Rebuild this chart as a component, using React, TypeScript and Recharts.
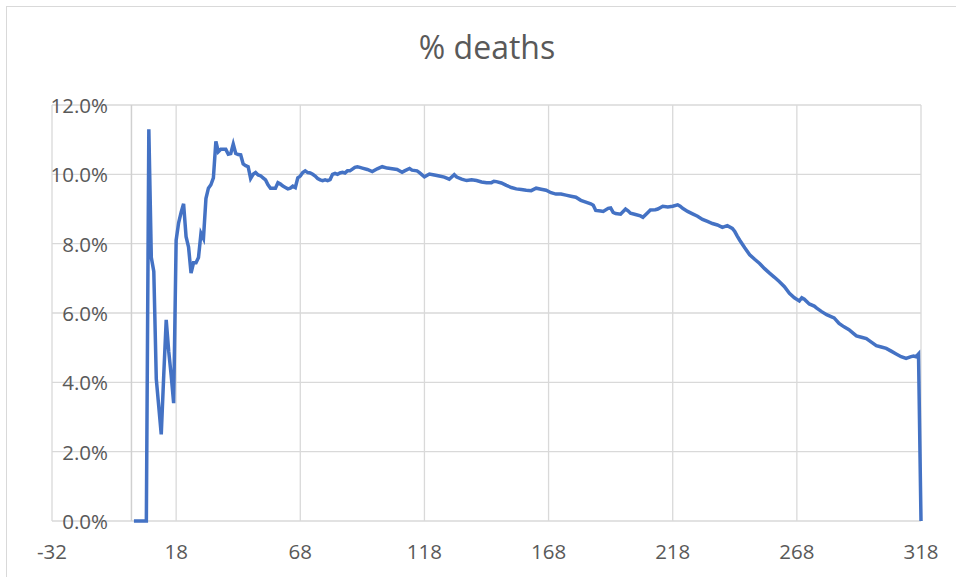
import { LineChart, Line, XAxis, YAxis, CartesianGrid, ReferenceLine } from "recharts";

const days = [
  1, 2, 3, 4, 5, 6, 7, 8, 9, 10, 11, 12, 13, 14, 15, 16, 17, 18, 19, 20,
  21, 22, 23, 24, 25, 26, 27, 28, 29, 30, 31, 32, 33, 34, 35, 36, 37, 38, 39, 40,
  41, 42, 43, 44, 45, 46, 47, 48, 49, 50, 51, 52, 53, 54, 55, 56, 57, 58, 59, 60,
  61, 62, 63, 64, 65, 66, 67, 68, 69, 70, 71, 72, 73, 74, 75, 76, 77, 78, 79, 80,
  81, 82, 83, 84, 85, 86, 87, 88, 90, 91, 92, 93, 95, 97, 99, 101, 103, 105, 107, 109,
  110, 112, 113, 115, 116, 118, 120, 122, 124, 126, 128, 130, 131, 133, 135, 137, 139, 141, 143, 145,
  146, 147, 149, 151, 153, 155, 157, 159, 161, 163, 165, 167, 169, 171, 173, 175, 177, 179, 181, 183,
  185, 186, 187, 189, 190, 192, 193, 194, 195, 197, 199, 200, 201, 203, 205, 206, 208, 209, 211, 212,
  214, 216, 218, 220, 221, 222, 224, 226, 228, 230, 232, 234, 236, 238, 240, 242, 243, 244, 245, 247,
  249, 251, 253, 255, 257, 259, 261, 263, 265, 267, 269, 270, 271, 273, 275, 276, 278, 280, 282, 283,
  285, 287, 289, 291, 292, 294, 296, 298, 300, 302, 304, 306, 308, 310, 312, 314, 315, 316, 317, 318,
];

const deathPct = [
  0, 0, 0, 0, 0, 0, 11.3, 7.6, 7.2, 4.1, 3.3, 2.5, 4.2, 5.8, 4.9, 4.2, 3.4, 8.1, 8.6, 8.9,
  9.15, 8.2, 7.9, 7.15, 7.45, 7.45, 7.6, 8.3, 8.15, 9.3, 9.6, 9.7, 9.9, 10.95, 10.65, 10.72, 10.72, 10.72, 10.58, 10.6,
  10.87, 10.6, 10.57, 10.56, 10.3, 10.25, 10.22, 9.88, 10.0, 10.05, 9.98, 9.96, 9.9, 9.84, 9.7, 9.6, 9.6, 9.6, 9.76, 9.72,
  9.66, 9.62, 9.58, 9.6, 9.66, 9.62, 9.9, 9.95, 10.05, 10.1, 10.05, 10.04, 10.0, 9.95, 9.88, 9.84, 9.82, 9.84, 9.82, 9.85,
  10.0, 10.03, 10.0, 10.04, 10.06, 10.04, 10.1, 10.1, 10.2, 10.22, 10.2, 10.18, 10.14, 10.08, 10.16, 10.22, 10.18, 10.16, 10.14, 10.06,
  10.1, 10.17, 10.12, 10.1, 10.05, 9.93, 10.01, 9.98, 9.95, 9.92, 9.86, 9.99, 9.92, 9.86, 9.82, 9.84, 9.82, 9.78, 9.76, 9.76,
  9.8, 9.79, 9.75, 9.68, 9.62, 9.58, 9.56, 9.54, 9.53, 9.6, 9.57, 9.54, 9.47, 9.43, 9.43, 9.4, 9.37, 9.34, 9.25, 9.2,
  9.15, 9.11, 8.96, 8.94, 8.93, 9.02, 9.03, 8.9, 8.87, 8.85, 9.0, 8.95, 8.88, 8.84, 8.8, 8.76, 8.9, 8.97, 8.98, 9.0,
  9.08, 9.06, 9.08, 9.12, 9.08, 9.02, 8.93, 8.86, 8.79, 8.7, 8.64, 8.58, 8.54, 8.47, 8.52, 8.44, 8.35, 8.22, 8.1, 7.88,
  7.68, 7.55, 7.43, 7.28, 7.15, 7.03, 6.9, 6.76, 6.57, 6.44, 6.35, 6.44, 6.4, 6.26, 6.2, 6.14, 6.04, 5.95, 5.89, 5.86,
  5.7, 5.6, 5.52, 5.4, 5.34, 5.3, 5.26, 5.16, 5.06, 5.02, 4.98, 4.9, 4.82, 4.74, 4.69, 4.74, 4.76, 4.74, 4.82, 0,
];

const xTicks = [-32, 18, 68, 118, 168, 218, 268, 318];
const yTicks = [0, 2, 4, 6, 8, 10, 12];

const data = days.map((d, i) => ({ day: d, pct: deathPct[i] }));

const FONT = "'Open Sans', sans-serif";

function YTick(props: any) {
  const { y, payload } = props;
  return (
    <text x={108} y={y} textAnchor="end" dominantBaseline="central" fill="#595959" fontSize={20.5} fontFamily={FONT}>
      {payload.value.toFixed(1) + "%"}
    </text>
  );
}

function XTick(props: any) {
  const { x, payload } = props;
  return (
    <text x={x} y={551} textAnchor="middle" dominantBaseline="central" fill="#595959" fontSize={20.5} fontFamily={FONT}>
      {payload.value}
    </text>
  );
}

export default function App() {
  return (
    <div style={{ position: "absolute", left: 0, top: 0, width: 956, height: 577, overflow: "hidden", background: "#fff", fontFamily: FONT }}>
      <div style={{ position: "absolute", left: 6, top: 6, width: 1000, height: 700, border: "1px solid #d9d9d9" }} />
      <div style={{ position: "absolute", left: 0, top: 25, width: 974, textAlign: "center", fontSize: 32, color: "#595959" }}>
        % deaths
      </div>
      <div style={{ position: "absolute", left: 0, top: 0 }}>
        <LineChart width={956} height={577} data={data} margin={{ top: 105, right: 35, bottom: 0, left: 0 }}>
          <CartesianGrid stroke="#d9d9d9" strokeWidth={1.3} />
          <XAxis
            dataKey="day"
            type="number"
            domain={[-32, 318]}
            ticks={xTicks}
            height={56}
            axisLine={false}
            tickLine={false}
            tick={<XTick />}
            interval={0}
          />
          <YAxis
            type="number"
            domain={[0, 12]}
            ticks={yTicks}
            width={52}
            axisLine={false}
            tickLine={false}
            tick={<YTick />}
            interval={0}
          />
          <ReferenceLine
            segment={[{ x: 0, y: 0 }, { x: 0, y: 12 }]}
            stroke="#d0d0d0"
            strokeWidth={1.5}
          />
          <Line
            type="linear"
            dataKey="pct"
            stroke="#4472C4"
            strokeWidth={3.5}
            dot={false}
            isAnimationActive={false}
          />
        </LineChart>
      </div>
    </div>
  );
}
